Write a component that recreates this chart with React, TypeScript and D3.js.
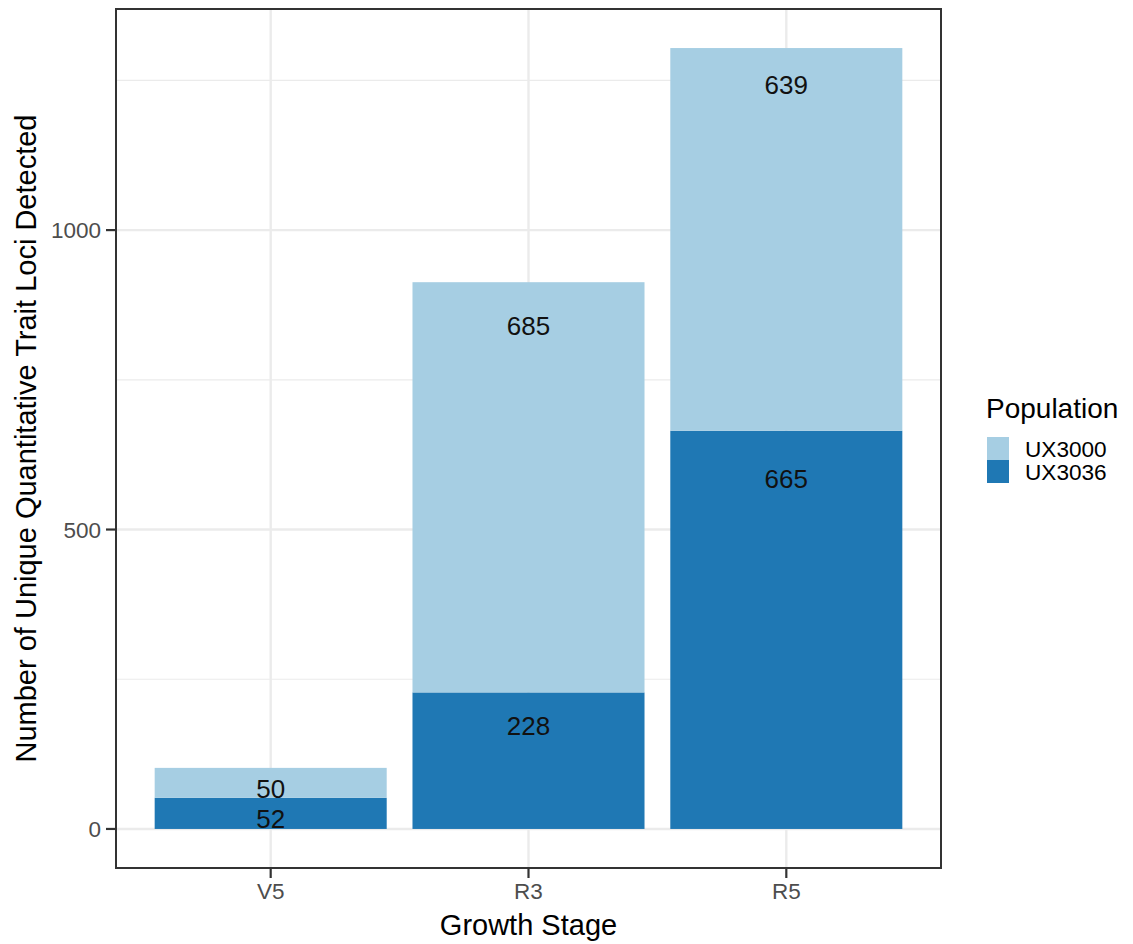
import React from "react";
import * as d3 from "d3";

const stages = ["V5", "R3", "R5"];
const populations = ["UX3000", "UX3036"];
const ux3036 = [52, 228, 665];
const ux3000 = [50, 685, 639];
// label positions (data units)
const ux3036LabelY = [17.5, 172, 585];
const ux3000LabelY = [67.5, 840, 1243];
const yTicks = [0, 500, 1000];
const yMinor = [250, 750, 1250];
const colors: Record<string, string> = { UX3000: "#a6cee3", UX3036: "#1f78b4" };

const W = 1133;
const H = 944;
const panel = { left: 116, right: 941, top: 9, bottom: 868 };
const font = "Liberation Sans, Arial, Helvetica, sans-serif";

export default function App() {
  const totals = stages.map((_, i) => ux3036[i] + ux3000[i]);
  const maxT = d3.max(totals) as number;
  const pad = maxT * 0.05;
  const y = d3.scaleLinear().domain([-pad, maxT + pad]).range([panel.bottom, panel.top]);
  const x = d3
    .scaleBand()
    .domain(stages)
    .range([panel.left, panel.right])
    .paddingInner(0.1)
    .paddingOuter(0.6 - 0.05);
  // ggplot-like discrete: centres with 0.6 expansion, bar width 0.9
  const unit = (panel.right - panel.left) / (stages.length - 1 + 1.2);
  const cx = (i: number) => panel.left + unit * (0.6 + i);
  const bw = unit * 0.9;

  const rows = stages.map((s, i) => ({
    stage: s,
    segs: [
      { pop: "UX3036", y0: 0, y1: ux3036[i], v: ux3036[i], ly: ux3036LabelY[i] },
      { pop: "UX3000", y0: ux3036[i], y1: ux3036[i] + ux3000[i], v: ux3000[i], ly: ux3000LabelY[i] },
    ],
  }));
  void x;

  return (
    <svg width={W} height={H} style={{ position: "absolute", left: 0, top: 0, background: "#fff" }}>
      <rect x={0} y={0} width={W} height={H} fill="#fff" />
      {/* grid */}
      {yMinor.map((t) => (
        <line key={"mi" + t} x1={panel.left} x2={panel.right} y1={y(t)} y2={y(t)} stroke="#ebebeb" strokeWidth={1.2} />
      ))}
      {yTicks.map((t) => (
        <line key={"ma" + t} x1={panel.left} x2={panel.right} y1={y(t)} y2={y(t)} stroke="#ebebeb" strokeWidth={2.4} />
      ))}
      {stages.map((s, i) => (
        <line key={"gx" + s} x1={cx(i)} x2={cx(i)} y1={panel.top} y2={panel.bottom} stroke="#ebebeb" strokeWidth={2.4} />
      ))}
      {/* bars */}
      {rows.map((r, i) =>
        r.segs.map((sg) => (
          <rect
            key={r.stage + sg.pop}
            x={cx(i) - bw / 2}
            width={bw}
            y={y(sg.y1)}
            height={y(sg.y0) - y(sg.y1)}
            fill={colors[sg.pop]}
          />
        ))
      )}
      {rows.map((r, i) =>
        r.segs.map((sg) => (
          <text
            key={"l" + r.stage + sg.pop}
            x={cx(i)}
            y={y(sg.ly)}
            dy="0.36em"
            textAnchor="middle"
            fontFamily={font}
            fontSize={26}
            fill="#111"
          >
            {sg.v}
          </text>
        ))
      )}
      {/* panel border */}
      <rect
        x={panel.left}
        y={panel.top}
        width={panel.right - panel.left}
        height={panel.bottom - panel.top}
        fill="none"
        stroke="#333"
        strokeWidth={2}
      />
      {/* y axis ticks */}
      {yTicks.map((t) => (
        <g key={"yt" + t}>
          <line x1={panel.left - 10} x2={panel.left} y1={y(t)} y2={y(t)} stroke="#333" strokeWidth={2.2} />
          <text x={panel.left - 15} y={y(t)} dy="0.36em" textAnchor="end" fontFamily={font} fontSize={22.5} fill="#4d4d4d">
            {t}
          </text>
        </g>
      ))}
      {/* x axis ticks */}
      {stages.map((s, i) => (
        <g key={"xt" + s}>
          <line x1={cx(i)} x2={cx(i)} y1={panel.bottom} y2={panel.bottom + 10} stroke="#333" strokeWidth={2.2} />
          <text x={cx(i)} y={899} textAnchor="middle" fontFamily={font} fontSize={22.5} fill="#4d4d4d">
            {s}
          </text>
        </g>
      ))}
      {/* axis titles */}
      <text x={(panel.left + panel.right) / 2} y={935} textAnchor="middle" fontFamily={font} fontSize={29} fill="#000">
        Growth Stage
      </text>
      <text
        transform={`translate(36,${(panel.top + panel.bottom) / 2}) rotate(-90)`}
        textAnchor="middle"
        fontFamily={font}
        fontSize={29}
        fill="#000"
      >
        Number of Unique Quantitative Trait Loci Detected
      </text>
      {/* legend */}
      <text x={986} y={418} fontFamily={font} fontSize={28} fill="#000">
        Population
      </text>
      {populations.map((p, i) => (
        <g key={"lg" + p}>
          <rect x={987} y={437 + i * 23} width={22} height={23} fill={colors[p]} />
          <text x={1025} y={448.5 + i * 23} dy="0.36em" fontFamily={font} fontSize={22.6} fill="#000">
            {p}
          </text>
        </g>
      ))}
    </svg>
  );
}
